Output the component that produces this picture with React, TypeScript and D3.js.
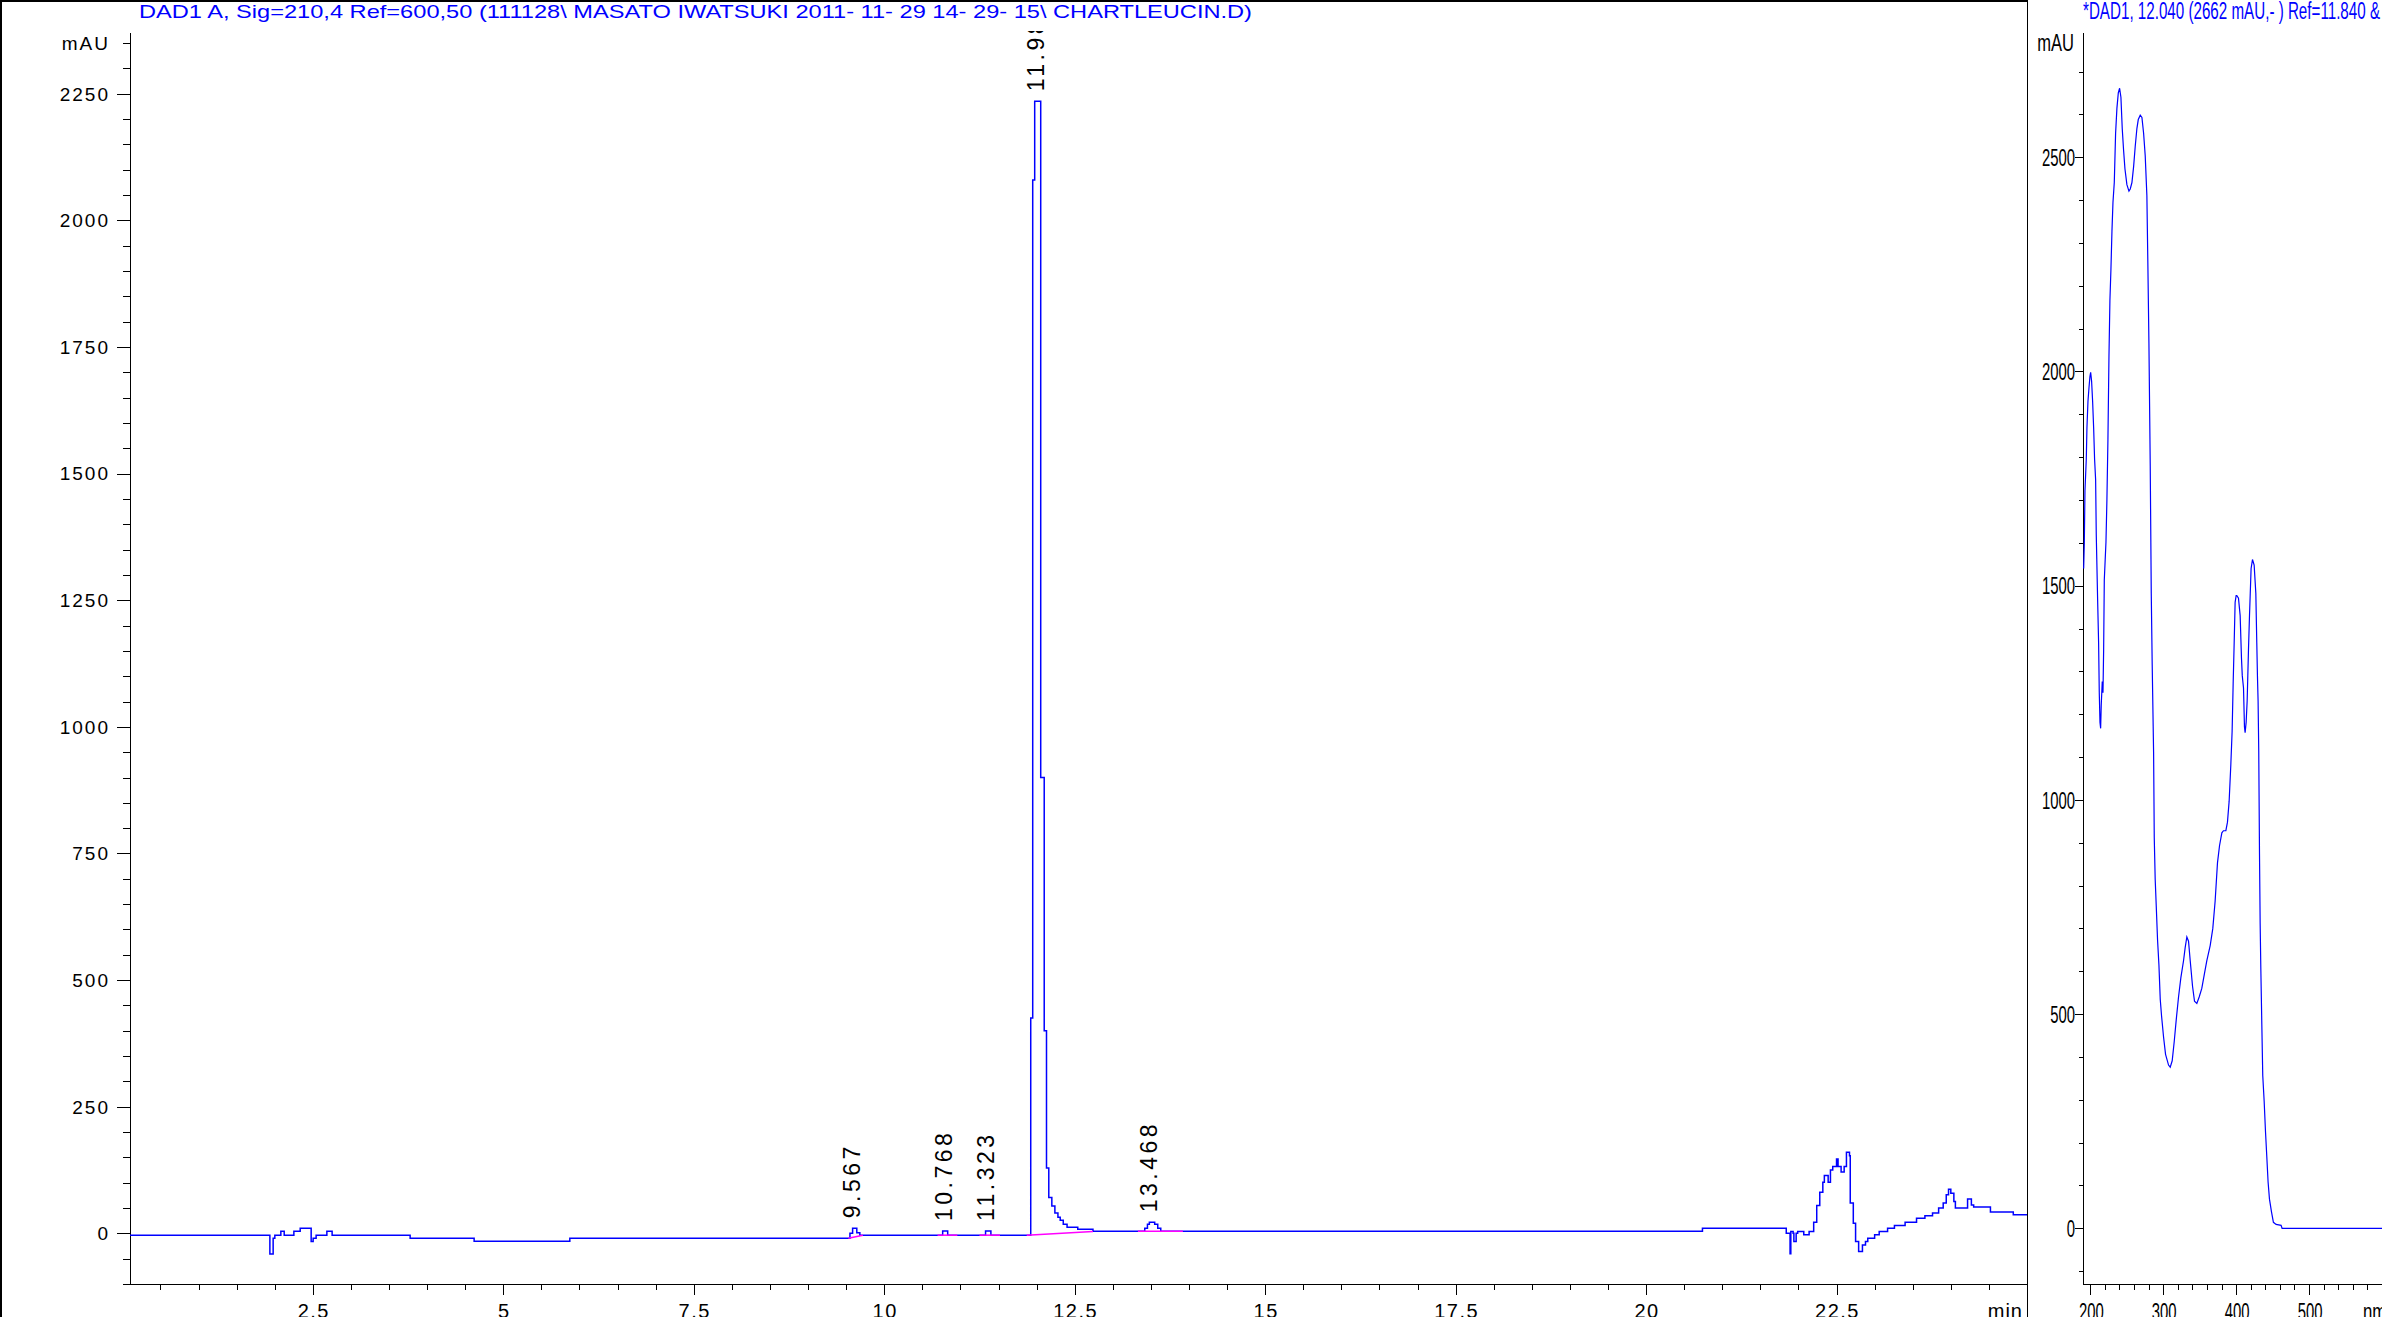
import React from "react";
import * as d3 from "d3";

const FONT = "'Liberation Sans', Arial, Helvetica, sans-serif";
const BLUE = "#0000ff";
const MAGENTA = "#ff00ff";

// ---- Chromatogram (DAD1 A, 210 nm), step trace: retention time (min) / signal (mAU)
const chromTime = [
  0.1, 1.936, 1.979, 2.001, 2.08, 2.124, 2.251, 2.334, 2.478, 2.504, 2.543, 2.684, 2.753,
  3.777, 4.617, 5.873, 9.55, 9.585, 9.64, 9.68, 10.767, 10.833, 11.33, 11.4,
  11.923, 11.949, 11.975, 12.054, 12.1, 12.13, 12.16, 12.2, 12.24, 12.28, 12.31, 12.35, 12.4,
  12.54, 12.74, 13.42, 13.455, 13.48, 13.55, 13.59, 13.63, 20.74,
  21.84, 21.89, 21.9, 21.93, 21.94, 21.97, 21.99, 22.07, 22.14, 22.2, 22.24, 22.28, 22.32,
  22.34, 22.39, 22.42, 22.45, 22.5, 22.52, 22.56, 22.6, 22.63, 22.67, 22.68, 22.72, 22.75,
  22.79, 22.84, 22.88, 22.91, 23.0, 23.06, 23.17, 23.26, 23.4, 23.55, 23.66, 23.76, 23.84,
  23.9, 23.94, 23.97, 24.0, 24.04, 24.06, 24.22, 24.27, 24.3, 24.52, 24.82, 25.0,
];
const chromMAU = [
  -3.5, -41, -9.5, -3.5, 4.3, -3.5, 4.3, 10.2, -16, -9.5, -3.5, 4.3, -3.5,
  -9.5, -15.4, -9.5, 0, 10, 1, -3.5, 4.5, -3.5, 4.5, -3.5,
  425, 2080, 2235, 900, 400, 129, 71, 54, 40, 32, 26, 18, 12,
  8, 4, 10, 18, 22, 18, 10, 4, 10.2,
  0.3, -40.5, 3.6, 0.3, -16, 0.3, 3.6, -3, 3.6, 22, 55, 81, 101,
  114, 101, 125, 132, 147, 132, 121, 132, 160, 153, 60, 20, -16,
  -36, -23, -16, -9.5, -3, 3.6, 10.2, 15.5, 22, 30, 35, 40, 50,
  60, 76, 87, 79, 63, 50, 68, 56, 52, 42, 36.5, 36.5,
];

// integration baselines (magenta)
const baseStartT = [9.53, 10.7, 11.25, 11.87, 13.33];
const baseStartV = [-9.5, -3.6, -3.6, -3.6, 4];
const baseEndT = [9.72, 10.96, 11.52, 12.74, 13.92];
const baseEndV = [-3.6, -3.6, -3.6, 3.6, 4];

// peak annotations
const peakRT = [9.567, 10.768, 11.323, 11.982, 13.468];
const peakLabel = ["9.567", "10.768", "11.323", "11.982", "13.468"];
const peakApex = [10, 4.5, 4.5, 2235, 22];

// axis ticks
const timeLabels = [2.5, 5, 7.5, 10, 12.5, 15, 17.5, 20, 22.5];
const mauLabels = [0, 250, 500, 750, 1000, 1250, 1500, 1750, 2000, 2250];

// ---- UV spectrum at apex: wavelength (nm) / absorbance (mAU)
const specNm = [
  190.9, 191.8, 192.7, 194.5, 195.4, 196.8, 198.2, 199.5, 200.5, 201.8, 203.2, 204.6, 205.9,
  207.3, 208.2, 210.0, 211.4, 212.3, 213.3, 214.2, 215.0, 216.4, 217.4, 218.3, 219.2, 221.5,
  222.8, 224.2, 225.6, 226.9, 228.3, 229.7, 231.1, 232.9, 234.7, 236.5, 238.4, 240.2, 242.0,
  243.8, 245.7, 247.5, 250.2, 253.0, 254.8, 257.1, 259.4, 261.6, 263.9, 265.8, 268.5, 270.8,
  273.1, 275.3, 277.6, 279.0, 280.4, 282.2, 283.6, 284.9, 286.8, 287.7, 289.0, 290.4, 292.2,
  294.1, 295.9, 297.7, 300.5, 303.2, 307.3, 309.6, 312.3, 315.1, 317.8, 321.0, 324.2, 327.9,
  330.1, 332.4, 334.7, 337.0, 340.2, 342.9, 346.1, 349.3, 352.9, 356.6, 359.8, 364.4, 368.0,
  371.2, 374.4, 377.2, 380.4, 382.6, 385.9, 388.1, 390.4, 392.7, 394.5, 395.9, 397.3, 398.6,
  400.0, 400.9, 403.2, 405.5, 407.3, 408.4, 410.1, 411.4, 412.3, 413.7, 415.1, 416.9, 418.3,
  420.5, 422.4, 424.7, 427.0, 428.3, 429.2, 430.1, 431.0, 432.0, 432.9, 433.8, 435.2, 436.5,
  438.4, 440.2, 442.0, 443.8, 445.7, 448.4, 451.1, 454.8, 461.6, 463.0, 600,
];
const specMAU = [
  1540, 1600, 1722, 1795, 1868, 1930, 1962, 1988, 1998, 1977, 1930, 1868, 1795,
  1748, 1618, 1471, 1367, 1251, 1181, 1167, 1221, 1276, 1250, 1350, 1513, 1602,
  1701, 1842, 2035, 2165, 2238, 2327, 2395, 2441, 2556, 2614, 2650, 2661, 2640,
  2567, 2515, 2473, 2436, 2421, 2426, 2441, 2478, 2525, 2567, 2588, 2598, 2593,
  2556, 2504, 2410, 2244, 2066, 1779, 1482, 1315, 1112, 913, 814, 754, 674,
  615, 535, 496, 446, 406, 381, 376, 391, 436, 486, 540, 585, 625,
  655, 680, 670, 625, 565, 530, 525, 540, 560, 595, 625, 660, 700,
  764, 853, 893, 923, 928, 928, 948, 997, 1082, 1161, 1271, 1367, 1461,
  1477, 1477, 1471, 1430, 1331, 1290, 1261, 1171, 1157, 1181, 1231, 1350, 1430,
  1540, 1561, 1548, 1482, 1367, 1290, 1230, 1112, 878, 714, 610, 476, 356,
  297, 227, 168, 108, 68, 39, 14, 9, 7, 0, 0,
];
const nmLabels = [200, 300, 400, 500];
const specMauLabels = [0, 500, 1000, 1500, 2000, 2500];

const titleLeft =
  "DAD1 A, Sig=210,4 Ref=600,50 (111128\\ MASATO IWATSUKI 2011- 11- 29 14- 29- 15\\ CHARTLEUCIN.D)";
const titleRight = "*DAD1, 12.040 (2662 mAU,- ) Ref=11.840 &";

export default function App() {
  const W = 2382;
  const H = 1317;
  // panel geometry
  const L = { x0: 130, x1: 2027, y0: 33, y1: 1284 };
  const R = { x0: 2083, x1: 2382, y0: 33, y1: 1284 };

  const xT = d3.scaleLinear().domain([0.1, 25]).range([L.x0, L.x1]);
  const yL = d3.scaleLinear().domain([-100, 2370]).range([L.y1, L.y0]);
  const xN = d3.scaleLinear().domain([190, 600]).range([R.x0, R.x1]);
  const yR = d3.scaleLinear().domain([-130, 2790]).range([R.y1, R.y0]);

  const idx = d3.range(chromTime.length);
  const chromPath =
    d3
      .line<number>()
      .x((i) => xT(chromTime[i]))
      .y((i) => yL(chromMAU[i]))
      .curve(d3.curveStepAfter)(idx) || "";

  const sidx = d3.range(specNm.length);
  const specPath =
    d3
      .line<number>()
      .x((i) => xN(specNm[i]))
      .y((i) => yR(specMAU[i]))(sidx) || "";

  const yTicksL = d3.range(-100, 2351, 50);
  const xTicksL = d3.range(0.5, 25, 0.5);
  const yTicksR = d3.range(-100, 2701, 100);
  const xTicksR = d3.range(200, 600, 20);

  const fmtT = (v: number) => (Number.isInteger(v) ? String(v) : v.toFixed(1));

  return (
    <svg
      width={W}
      height={H}
      style={{ position: "absolute", left: 0, top: 0, background: "#fff" }}
      fontFamily={FONT}
    >
      <defs>
        <clipPath id="clipL">
          <rect x={L.x0} y={31} width={L.x1 - L.x0} height={L.y1 - 31} />
        </clipPath>
        <clipPath id="clipR">
          <rect x={R.x0} y={R.y0} width={R.x1 - R.x0} height={R.y1 - R.y0} />
        </clipPath>
        <clipPath id="clipRtitle">
          <rect x={2028} y={0} width={W - 2028} height={H} />
        </clipPath>
      </defs>
      <rect x={0} y={0} width={W} height={H} fill="#fff" />

      {/* frame */}
      <line x1={0} y1={1} x2={2028} y2={1} stroke="#000" strokeWidth={2} />
      <line x1={1} y1={0} x2={1} y2={H} stroke="#000" strokeWidth={2} />
      <line x1={2027.5} y1={0} x2={2027.5} y2={H} stroke="#000" strokeWidth={1} />

      {/* titles */}
      <text
        x={139}
        y={18}
        fontSize={19}
        fill={BLUE}
        textLength={1113}
        lengthAdjust="spacingAndGlyphs"
      >
        {titleLeft}
      </text>
      <g clipPath="url(#clipRtitle)">
        <text
          x={2083}
          y={19}
          fontSize={23}
          fill={BLUE}
          textLength={297}
          lengthAdjust="spacingAndGlyphs"
        >
          {titleRight}
        </text>
      </g>

      {/* ---------- LEFT PANEL AXES ---------- */}
      <line x1={L.x0 + 0.5} y1={L.y0} x2={L.x0 + 0.5} y2={L.y1} stroke="#000" strokeWidth={1} />
      <line x1={L.x0} y1={L.y1 + 0.5} x2={L.x1} y2={L.y1 + 0.5} stroke="#000" strokeWidth={1} />
      {yTicksL.map((v) => {
        const major = v % 250 === 0;
        const y = Math.round(yL(v)) + 0.5;
        return (
          <line
            key={"yl" + v}
            x1={L.x0 - (major ? 13 : 7)}
            x2={L.x0}
            y1={y}
            y2={y}
            stroke="#000"
            strokeWidth={1}
          />
        );
      })}
      {mauLabels.map((v) => (
        <text
          key={"yll" + v}
          x={110}
          y={yL(v)}
          dy="0.36em"
          fontSize={19}
          letterSpacing={2}
          textAnchor="end"
          fill="#000"
        >
          {v}
        </text>
      ))}
      <text x={110} y={yL(2350)} dy="0.36em" fontSize={19} letterSpacing={2} textAnchor="end" fill="#000">
        mAU
      </text>
      {xTicksL.map((t) => {
        const major = Math.abs(t / 2.5 - Math.round(t / 2.5)) < 1e-6;
        const x = Math.round(xT(t)) + 0.5;
        return (
          <line
            key={"xl" + t}
            x1={x}
            x2={x}
            y1={L.y1}
            y2={L.y1 + (major ? 11 : 6)}
            stroke="#000"
            strokeWidth={1}
          />
        );
      })}
      {timeLabels.map((t) => (
        <text
          key={"xll" + t}
          x={xT(t) + 1}
          y={1318}
          fontSize={20}
          letterSpacing={1.5}
          textAnchor="middle"
          fill="#000"
        >
          {fmtT(t)}
        </text>
      ))}
      <text x={xT(25) - 4} y={1318} fontSize={20} letterSpacing={1} textAnchor="end" fill="#000">
        min
      </text>

      {/* chromatogram */}
      <g clipPath="url(#clipL)">
        <path d={chromPath} fill="none" stroke={BLUE} strokeWidth={1.5} />
        {baseStartT.map((t, i) => (
          <line
            key={"bl" + i}
            x1={xT(t)}
            y1={yL(baseStartV[i])}
            x2={xT(baseEndT[i])}
            y2={yL(baseEndV[i])}
            stroke={MAGENTA}
            strokeWidth={1.5}
          />
        ))}
        {peakRT.map((rt, i) => {
          const xc = xT(rt) + 0.5;
          const yb = yL(peakApex[i]) - 10;
          return (
            <text
              key={"pk" + i}
              transform={`translate(${xc + 8.3},${yb}) rotate(-90)`}
              fontSize={23}
              letterSpacing={3.5}
              fill="#000"
            >
              {peakLabel[i]}
            </text>
          );
        })}
      </g>

      {/* ---------- RIGHT PANEL ---------- */}
      <line x1={R.x0 + 0.5} y1={R.y0} x2={R.x0 + 0.5} y2={R.y1} stroke="#000" strokeWidth={1} />
      <line x1={R.x0} y1={R.y1 + 0.5} x2={R.x1} y2={R.y1 + 0.5} stroke="#000" strokeWidth={1} />
      {yTicksR.map((v) => {
        const major = v % 500 === 0;
        const y = Math.round(yR(v)) + 0.5;
        return (
          <line
            key={"yr" + v}
            x1={R.x0 - (major ? 8 : 4)}
            x2={R.x0}
            y1={y}
            y2={y}
            stroke="#000"
            strokeWidth={1}
          />
        );
      })}
      <g clipPath="url(#clipRtitle)">
        {specMauLabels.map((v) => (
          <text
            key={"yrl" + v}
            transform={`translate(2075,${yR(v)}) scale(0.62,1)`}
            dy="0.36em"
            fontSize={24}
            textAnchor="end"
            fill="#000"
          >
            {v}
          </text>
        ))}
        <text
          transform={`translate(2074,${43}) scale(0.72,1)`}
          dy="0.36em"
          fontSize={23}
          textAnchor="end"
          fill="#000"
        >
          mAU
        </text>
      </g>
      {xTicksR.map((n) => {
        const major = n % 100 === 0;
        const x = Math.round(xN(n)) + 0.5;
        return (
          <line
            key={"xr" + n}
            x1={x}
            x2={x}
            y1={R.y1}
            y2={R.y1 + (major ? 11 : 6)}
            stroke="#000"
            strokeWidth={1}
          />
        );
      })}
      {nmLabels.map((n) => (
        <text
          key={"xrl" + n}
          transform={`translate(${xN(n) + 1},1320) scale(0.62,1)`}
          fontSize={24}
          textAnchor="middle"
          fill="#000"
        >
          {n}
        </text>
      ))}
      <text transform={`translate(2363,1320) scale(0.7,1)`} fontSize={24} fill="#000">
        nm
      </text>
      <g clipPath="url(#clipR)">
        <path d={specPath} fill="none" stroke={BLUE} strokeWidth={1.2} />
      </g>
    </svg>
  );
}
